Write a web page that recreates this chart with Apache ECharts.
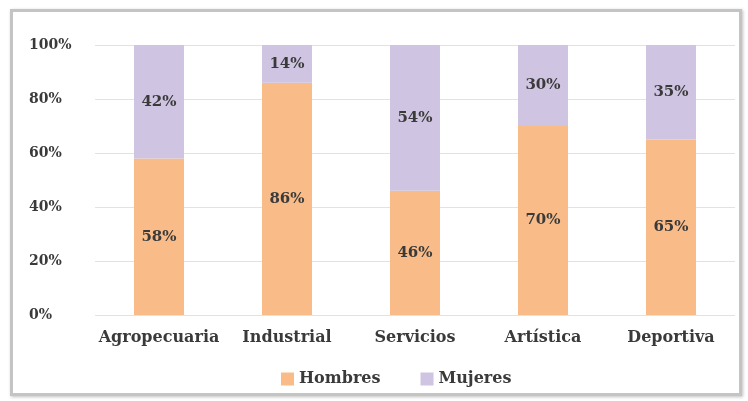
<!DOCTYPE html>
<html>
<head>
<meta charset="utf-8">
<script src="https://cdn.jsdelivr.net/npm/echarts@6/dist/echarts.min.js"></script>
<style>
    html, body { margin: 0; padding: 0; background: #fff; }
    .frame {
        position: absolute;
        left: 10px; top: 9px;
        width: 726px; height: 381px;
        border: 3px solid #c4c4c4;
        box-shadow: 1px 1px 3px rgba(0,0,0,0.25);
    }
    #chart { position: absolute; left: 0; top: 0; width: 748px; height: 401px; }
</style>
</head>
<body>
<div class="frame"></div>
<div id="chart"></div>
<script>
// datos
const categorias = ['Agropecuaria', 'Industrial', 'Servicios', 'Artística', 'Deportiva'];
const hombres = [58, 86, 46, 70, 65];
const mujeres = [42, 14, 54, 30, 35];
const yTicks = [0, 20, 40, 60, 80, 100];

const serif = '"DejaVu Serif", "Liberation Serif", serif';
const textColor = '#3a3a3a';
const chart = echarts.init(document.getElementById('chart'));

const labelStyle = {
    show: true,
    position: 'inside',
    color: textColor,
    fontFamily: serif,
    fontWeight: 'bold',
    fontSize: 15,
    formatter: p => p.value + '%',
};

chart.setOption({
    animation: false,
    backgroundColor: 'transparent',
    textStyle: { fontFamily: serif },
    grid: { left: 95, right: 13, top: 45, bottom: 86 },
    legend: {
        bottom: 9,
        left: 276,
        itemWidth: 13,
        itemHeight: 13,
        itemGap: 40,
        icon: 'rect',
        textStyle: { fontFamily: serif, fontWeight: 'bold', fontSize: 16, color: textColor },
        data: ['Hombres', 'Mujeres'],
    },
    xAxis: {
        type: 'category',
        data: categorias,
        axisLine: { show: false },
        axisTick: { show: false },
        axisLabel: {
            color: textColor, fontSize: 16, fontWeight: 'bold', fontFamily: serif,
            margin: 15, interval: 0,
        },
    },
    yAxis: {
        type: 'value',
        min: yTicks[0],
        max: yTicks[yTicks.length - 1],
        interval: 20,
        axisLine: { show: false },
        axisTick: { show: false },
        axisLabel: {
            color: textColor, fontSize: 14, fontWeight: 'bold', fontFamily: serif,
            align: 'left', margin: 66,
            formatter: v => v + '%',
        },
        splitLine: { lineStyle: { color: '#e2e2e2', width: 1 } },
    },
    series: [
        {
            name: 'Hombres',
            type: 'bar',
            stack: 'total',
            barWidth: 50,
            data: hombres,
            itemStyle: { color: '#F9BC89' },
            label: labelStyle,
        },
        {
            name: 'Mujeres',
            type: 'bar',
            stack: 'total',
            barWidth: 50,
            data: mujeres,
            itemStyle: { color: '#CFC4E2' },
            label: labelStyle,
        },
    ],
});
</script>
</body>
</html>
